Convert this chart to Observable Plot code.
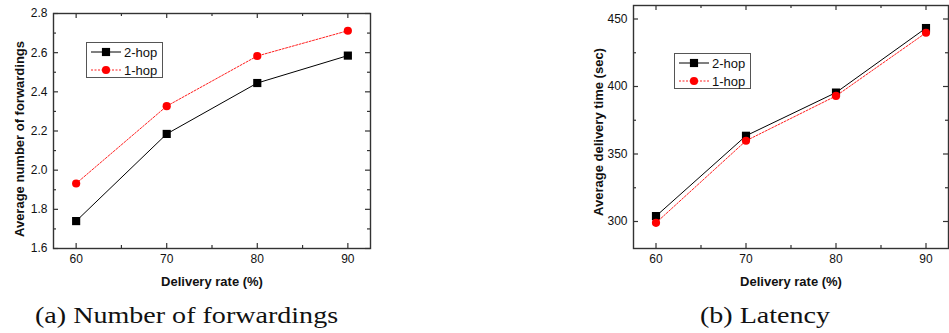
<!DOCTYPE html>
<html>
<head>
<meta charset="utf-8">
<script src="https://cdn.jsdelivr.net/npm/d3@7"></script>
<script src="https://cdn.jsdelivr.net/npm/@observablehq/plot@0.6"></script>
<style>
  html, body { margin: 0; padding: 0; background: #fff; }
  #page { position: relative; width: 949px; height: 333px; overflow: hidden; font-family: "Liberation Sans", Arial, sans-serif; }
  .panel { position: absolute; top: 0; }
  .legend { position: absolute; border: 1px solid #555; background: #fff; box-sizing: border-box; }
  .legend .row { display: flex; align-items: center; height: 18px; font-size: 13px; color: #111; }
  .legend svg { display: block; }
  .caption { position: absolute; top: 304px; font-family: "Liberation Serif", "Times New Roman", serif; font-size: 23px; line-height: 23px; color: #111; white-space: nowrap; transform: scaleX(1.22); transform-origin: left center; }
</style>
</head>
<body>
<div id="page"></div>
<script>
// Delivery rate on the x axis (%)
const rates = [60, 70, 80, 90];
const seriesNames = ["2-hop", "1-hop"];

// (a) average number of forwardings
const forwardings2hop = [1.74, 2.185, 2.445, 2.585];
const forwardings1hop = [1.932, 2.327, 2.583, 2.712];

// (b) average delivery time in seconds
const latency2hop = [304, 363.5, 395.5, 443.3];
const latency1hop = [299, 359.8, 393, 439.8];

// axis ticks
const xTicks = [60, 70, 80, 90];
const xMinor = [65, 75, 85];
const yTicksA = [1.6, 1.8, 2.0, 2.2, 2.4, 2.6, 2.8];
const yMinorA = [1.7, 1.9, 2.1, 2.3, 2.5, 2.7];
const yTicksB = [300, 350, 400, 450];
const yMinorB = [325, 375, 425];

const styles = {
  "2-hop": {stroke: "#000", dash: null, fill: "#000", symbol: "square", r: 4.6},
  "1-hop": {stroke: "#ff2020", dash: "2,1.5", fill: "#ff0000", symbol: "circle", r: 4.1}
};

function table(a, b) {
  return [
    ...rates.map((x, i) => ({rate: x, value: a[i], series: "2-hop"})),
    ...rates.map((x, i) => ({rate: x, value: b[i], series: "1-hop"}))
  ];
}

function panel({rows, width, height, margins, xDomain, yDomain, yTicks, yMinor, yFormat, yLabel, yLabelDx, yLabelDy}) {
  const [mt, mr, mb, ml] = margins;
  const fw = width - ml - mr, fh = height - mt - mb;
  const frameColor = "#333";
  const seriesMarks = seriesNames.flatMap(name => {
    const s = styles[name];
    const d = rows.filter(r => r.series === name);
    return [
      Plot.line(d, {x: "rate", y: "value", stroke: s.stroke, strokeWidth: 1, strokeDasharray: s.dash}),
      Plot.dot(d, {x: "rate", y: "value", symbol: s.symbol, r: s.r, fill: s.fill, stroke: "none"})
    ];
  });
  return Plot.plot({
    width, height,
    marginTop: mt, marginRight: mr, marginBottom: mb, marginLeft: ml,
    style: {fontFamily: "Liberation Sans, Arial, sans-serif", fontSize: "12px", color: "#111", background: "transparent"},
    x: {domain: xDomain, axis: null},
    y: {domain: yDomain, axis: null},
    marks: [
      ...seriesMarks,
      // inward ticks on all four sides
      Plot.tickX(xTicks, {x: d => d, insetTop: fh - 5, stroke: frameColor, strokeWidth: 1.2}),
      Plot.tickX(xTicks, {x: d => d, insetBottom: fh - 5, stroke: frameColor, strokeWidth: 1.2}),
      Plot.tickX(xMinor, {x: d => d, insetTop: fh - 3, stroke: frameColor, strokeWidth: 1.2}),
      Plot.tickX(xMinor, {x: d => d, insetBottom: fh - 3, stroke: frameColor, strokeWidth: 1.2}),
      Plot.tickY(yTicks, {y: d => d, insetRight: fw - 5, stroke: frameColor, strokeWidth: 1.2}),
      Plot.tickY(yTicks, {y: d => d, insetLeft: fw - 5, stroke: frameColor, strokeWidth: 1.2}),
      Plot.tickY(yMinor, {y: d => d, insetRight: fw - 3, stroke: frameColor, strokeWidth: 1.2}),
      Plot.tickY(yMinor, {y: d => d, insetLeft: fw - 3, stroke: frameColor, strokeWidth: 1.2}),
      Plot.frame({stroke: frameColor, strokeWidth: 1.4}),
      Plot.axisX(xTicks, {tickSize: 0, tickPadding: 6, label: null, fontSize: 12}),
      Plot.axisY(yTicks, {tickSize: 0, tickPadding: 6, label: null, fontSize: 12, tickFormat: yFormat}),
      Plot.text(["Delivery rate (%)"], {text: d => d, frameAnchor: "bottom", textAnchor: "middle", lineAnchor: "middle", dy: 33, fontWeight: "bold", fontSize: 13}),
      Plot.text([yLabel], {text: d => d, frameAnchor: "left", textAnchor: "middle", lineAnchor: "middle", rotate: -90, dx: yLabelDx, dy: yLabelDy, fontWeight: "bold", fontSize: 13})
    ]
  });
}

function legend(left, top) {
  const box = document.createElement("div");
  box.className = "legend";
  box.style.left = left + "px";
  box.style.top = top + "px";
  box.style.width = "77px";
  box.style.height = "36px";
  box.style.padding = "0 0 0 3px";
  for (const name of seriesNames) {
    const s = styles[name];
    const row = document.createElement("div");
    row.className = "row";
    const svg = d3.create("svg").attr("width", 34).attr("height", 18);
    svg.append("line").attr("x1", 1).attr("x2", 31).attr("y1", 9).attr("y2", 9)
      .attr("stroke", s.stroke).attr("stroke-width", 1).attr("stroke-dasharray", s.dash);
    svg.append("path").attr("transform", "translate(16,9)")
      .attr("d", d3.symbol(s.symbol === "square" ? d3.symbolSquare : d3.symbolCircle, Math.PI * s.r * s.r)())
      .attr("fill", s.fill);
    row.appendChild(svg.node());
    const label = document.createElement("span");
    label.textContent = name;
    row.appendChild(label);
    box.appendChild(row);
  }
  return box;
}

const page = document.getElementById("page");

const a = panel({
  rows: table(forwardings2hop, forwardings1hop),
  width: 380, height: 300, margins: [13, 10, 52, 53],
  xDomain: [57.5, 92.5], yDomain: [1.6, 2.8],
  yTicks: yTicksA, yMinor: yMinorA, yFormat: d => d.toFixed(1),
  yLabel: "Average number of forwardings", yLabelDx: -34, yLabelDy: 8
});
a.classList.add("panel");
a.style.left = "0px";
page.appendChild(a);

const b = panel({
  rows: table(latency2hop, latency1hop),
  width: 369, height: 300, margins: [5, 1, 52, 53],
  xDomain: [57.5, 92.5], yDomain: [280, 460],
  yTicks: yTicksB, yMinor: yMinorB, yFormat: d => String(d),
  yLabel: "Average delivery time (sec)", yLabelDx: -35, yLabelDy: 5
});
b.classList.add("panel");
b.style.left = "580px";
page.appendChild(b);

page.appendChild(legend(86, 42));
page.appendChild(legend(674, 53));

for (const [text, left] of [["(a) Number of forwardings", 35], ["(b) Latency", 700]]) {
  const c = document.createElement("div");
  c.className = "caption";
  c.style.left = left + "px";
  c.textContent = text;
  page.appendChild(c);
}
</script>
</body>
</html>
